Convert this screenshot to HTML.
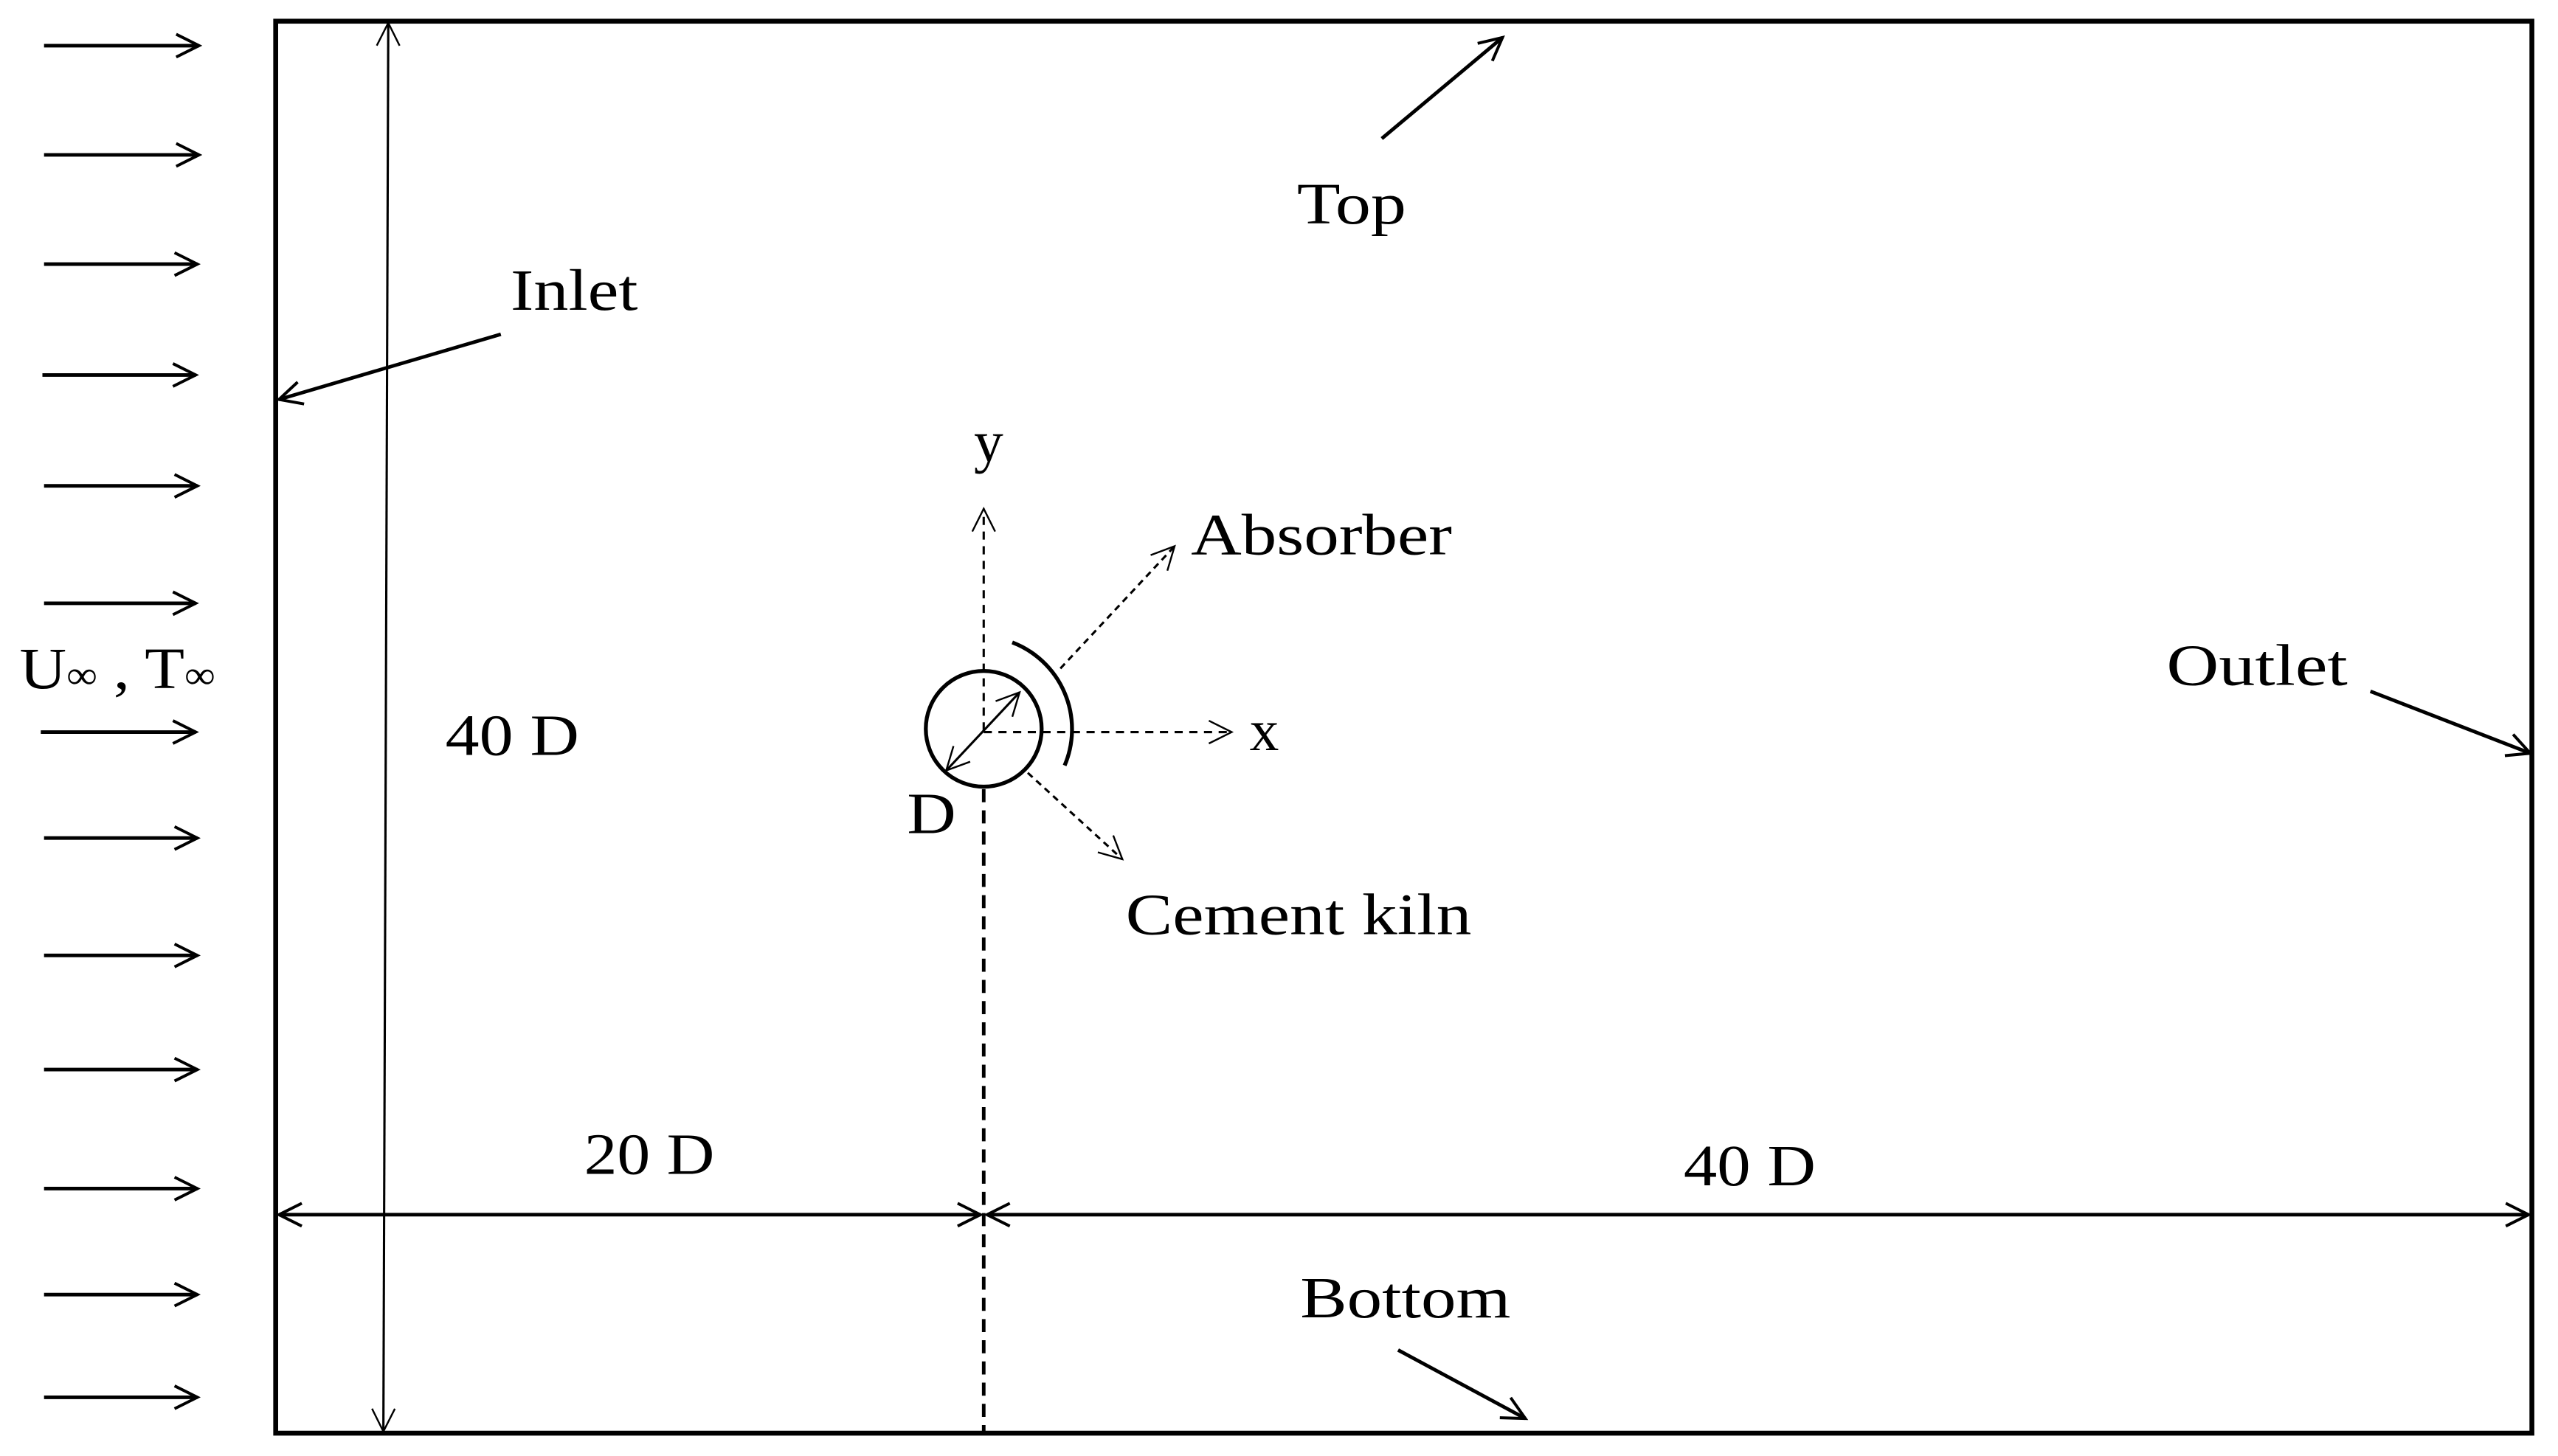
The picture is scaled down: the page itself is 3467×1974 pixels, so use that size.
<!DOCTYPE html>
<html><head><meta charset="utf-8"><style>
html,body{margin:0;padding:0;background:#fff;}
svg{display:block;}
text{font-family:"Liberation Serif",serif;fill:#000;}
</style></head><body>
<svg width="3467" height="1974" viewBox="0 0 1568 893" preserveAspectRatio="none" xmlns="http://www.w3.org/2000/svg">
<defs>
<marker id="a" viewBox="-16 -8 18 16" markerWidth="18" markerHeight="16" refX="0" refY="0" orient="auto-start-reverse" markerUnits="userSpaceOnUse">
<path d="M-14,-7 L0,0 L-14,7" fill="none" stroke="#000" stroke-width="1.8"/>
</marker>
<marker id="b" viewBox="-16 -8 18 16" markerWidth="18" markerHeight="16" refX="0" refY="0" orient="auto-start-reverse" markerUnits="userSpaceOnUse">
<path d="M-14,-7 L0,0 L-14,7" fill="none" stroke="#000" stroke-width="1.1"/>
</marker>
</defs>
<rect x="169" y="13" width="1383" height="866" fill="none" stroke="#000" stroke-width="3"/>
<g stroke="#000" stroke-width="2.2" marker-end="url(#a)">
<line x1="27" y1="28" x2="122" y2="28"/>
<line x1="27" y1="95" x2="122" y2="95"/>
<line x1="27" y1="162" x2="121" y2="162"/>
<line x1="26" y1="230" x2="120" y2="230"/>
<line x1="27" y1="298" x2="121" y2="298"/>
<line x1="27" y1="370" x2="120" y2="370"/>
<line x1="25" y1="449" x2="120" y2="449"/>
<line x1="27" y1="514" x2="121" y2="514"/>
<line x1="27" y1="586" x2="121" y2="586"/>
<line x1="27" y1="656" x2="121" y2="656"/>
<line x1="27" y1="729" x2="121" y2="729"/>
<line x1="27" y1="794" x2="121" y2="794"/>
<line x1="27" y1="857" x2="121" y2="857"/>
</g>
<g stroke="#000" stroke-width="1.4" fill="none">
<line x1="238" y1="14" x2="235" y2="878" marker-start="url(#b)" marker-end="url(#b)"/>
<line x1="171" y1="745" x2="601" y2="745" stroke-width="2.2" marker-start="url(#a)" marker-end="url(#a)"/>
<line x1="605" y1="745" x2="1550" y2="745" stroke-width="2.2" marker-start="url(#a)" marker-end="url(#a)"/>
<line x1="307" y1="205" x2="171" y2="245" stroke-width="2.2" marker-end="url(#a)"/>
<line x1="847" y1="85" x2="921" y2="23" stroke-width="2.2" marker-end="url(#a)"/>
<line x1="1453" y1="424" x2="1551" y2="462" stroke-width="2.2" marker-end="url(#a)"/>
<line x1="857" y1="828" x2="935" y2="870" stroke-width="2.2" marker-end="url(#a)"/>
<line x1="603" y1="448" x2="603" y2="312" stroke-dasharray="5,4" marker-end="url(#b)"/>
<line x1="603" y1="449" x2="755" y2="449" stroke-dasharray="5,4" marker-end="url(#b)"/>
<line x1="603" y1="484" x2="603" y2="879" stroke-width="2.2" stroke-dasharray="8,5"/>
<line x1="650" y1="410" x2="720" y2="335" stroke-dasharray="4,3" marker-end="url(#b)"/>
<line x1="630" y1="474" x2="688" y2="527" stroke-dasharray="4,3" marker-end="url(#b)"/>
<line x1="580" y1="472.6" x2="625" y2="424.6" marker-start="url(#b)" marker-end="url(#b)"/>
<circle cx="603" cy="447" r="35.5" stroke-width="2.4"/>
<path d="M620.5,394 A57,57 0 0 1 652.6,469.5" stroke-width="2.4"/>
</g>
<g font-size="36">
<text x="795" y="137" textLength="67" lengthAdjust="spacingAndGlyphs">Top</text>
<text x="313" y="190" textLength="78" lengthAdjust="spacingAndGlyphs">Inlet</text>
<text x="597" y="283">y</text>
<text x="730" y="340" textLength="160" lengthAdjust="spacingAndGlyphs">Absorber</text>
<text x="1328" y="420" textLength="111" lengthAdjust="spacingAndGlyphs">Outlet</text>
<text x="12" y="422" textLength="120" lengthAdjust="spacingAndGlyphs">U<tspan font-size="24">∞</tspan> , T<tspan font-size="24">∞</tspan></text>
<text x="273" y="463" textLength="82" lengthAdjust="spacingAndGlyphs">40 D</text>
<text x="766" y="460">x</text>
<text x="556" y="511" textLength="30" lengthAdjust="spacingAndGlyphs">D</text>
<text x="690" y="573" textLength="212" lengthAdjust="spacingAndGlyphs">Cement kiln</text>
<text x="358" y="720" textLength="80" lengthAdjust="spacingAndGlyphs">20 D</text>
<text x="1032" y="727" textLength="81" lengthAdjust="spacingAndGlyphs">40 D</text>
<text x="797" y="808" textLength="129" lengthAdjust="spacingAndGlyphs">Bottom</text>
</g>
</svg>
</body></html>
